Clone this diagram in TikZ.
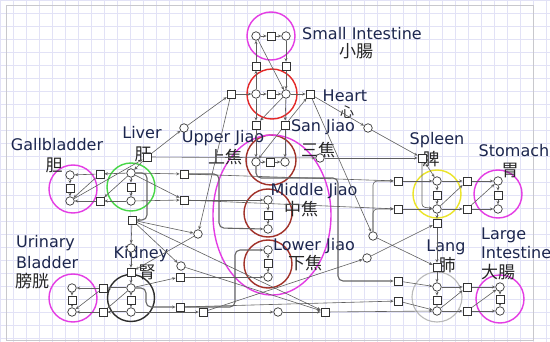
\documentclass[tikz,border=0pt]{standalone}
\usepackage{fontspec}
\setmainfont{DejaVu Sans}
\newfontfamily\cjkf{Noto Sans CJK JP}
\usetikzlibrary{arrows.meta}
\definecolor{gridc}{RGB}{226,226,246}
\definecolor{framec}{RGB}{200,200,205}
\definecolor{labc}{RGB}{28,38,78}
\definecolor{mag}{RGB}{228,60,228}
\definecolor{hred}{RGB}{228,40,40}
\definecolor{jred}{RGB}{160,48,40}
\definecolor{lgreen}{RGB}{70,215,70}
\definecolor{syel}{RGB}{235,228,40}
\definecolor{lgray}{RGB}{185,185,185}
\definecolor{kblk}{RGB}{45,45,45}
\definecolor{edgec}{RGB}{95,95,95}
\pgfdeclarelayer{bg}
\pgfdeclarelayer{labl}
\pgfdeclarelayer{edges}
\pgfsetlayers{bg,labl,edges,main}
\begin{document}
\begin{tikzpicture}[x=1pt,y=-1pt,
 pl/.style={circle,draw=black!80,fill=white,line width=0.7pt,minimum size=8.5pt,inner sep=0pt},
 tr/.style={rectangle,draw=black!80,fill=white,line width=0.7pt,minimum size=8pt,inner sep=0pt},
 arc/.style={draw=edgec,line width=0.6pt,-{Stealth[length=3.5pt,width=3pt]}},
 bus/.style={draw=black!60,line width=1.1pt,rounded corners=5pt,-{Stealth[length=3.5pt,width=3pt]}},
 organ/.style={line width=1.4pt},
 lab/.style={text=labc,inner sep=0pt,font=\fontsize{16}{18}\selectfont},
 cj/.style={text=black!85,inner sep=0pt,font=\cjkf\fontsize{17}{19}\selectfont},
]
\useasboundingbox (0,0) rectangle (550,342);
\begin{pgfonlayer}{bg}
\fill[white] (0,0) rectangle (550,342);
\foreach \i in {0,13,...,546} \draw[gridc,line width=0.5pt] (\i,0) -- (\i,342);
\foreach \j in {0,13,...,340} \draw[gridc,line width=0.5pt] (0,\j) -- (550,\j);
\draw[framec,line width=0.8pt] (6,5) rectangle (533,340);
% organ outlines
\draw[organ,mag] (271,36) circle (24);
\draw[organ,hred] (272,94) circle (25);
\draw[organ,jred] (271,160) circle (25);
\draw[organ,jred] (268,213) circle (24);
\draw[organ,jred] (268,264) circle (24);
\draw[organ,mag] (272,215) ellipse (59 and 80);
\draw[organ,mag] (73,189) circle (24);
\draw[organ,lgreen] (131,187) circle (24);
\draw[organ,kblk] (131,298) circle (23.5);
\draw[organ,mag] (73,298) circle (24);
\draw[organ,syel] (437,194) circle (24);
\draw[organ,mag] (498,194) circle (24);
\draw[lgray,line width=1.1pt] (437,297) circle (25);
\draw[organ,mag] (500,299) circle (24);
\end{pgfonlayer}

% labels
\begin{pgfonlayer}{labl}
\node[lab] (lSI) at (362,34) {Small Intestine};
\node[cj] (cSI) at (356,51) {小腸};
\node[lab] (lH) at (345,96) {Heart};
\node[cj,font=\cjkf\fontsize{14}{16}\selectfont] (cH) at (347,112) {心};
\node[lab] (lSJ) at (323,127) {San Jiao};
\node[cj] (cSJ) at (318,150) {三焦};
\node[lab] (lUJ) at (223,138) {Upper Jiao};
\node[cj] (cUJ) at (225,157) {上焦};
\node[lab] (lMJ) at (314,191) {Middle Jiao};
\node[cj] (cMJ) at (301,209) {中焦};
\node[lab] (lLJ) at (314,246) {Lower Jiao};
\node[cj] (cLJ) at (305,263) {下焦};
\node[lab] (lGB) at (57,145) {Gallbladder};
\node[cj] (cGB) at (54,165) {胆};
\node[lab] (lLv) at (142,133) {Liver};
\node[cj] (cLv) at (143,154) {肝};
\node[lab,anchor=west] (lUB1) at (16,243) {Urinary};
\node[lab,anchor=west] (lUB2) at (16,263) {Bladder};
\node[cj,anchor=west] (cUB) at (15,281) {膀胱};
\node[lab] (lK) at (141,254) {Kidney};
\node[cj] (cK) at (147,272) {腎};
\node[lab] (lSp) at (437,140) {Spleen};
\node[cj] (cSp) at (431,159) {脾};
\node[lab] (lSt) at (514,151) {Stomach};
\node[cj] (cSt) at (510,170) {胃};
\node[lab] (lLg) at (446,247) {Lang};
\node[cj] (cLg) at (447,265) {肺};
\node[lab,anchor=west] (lLI1) at (481,235) {Large};
\node[lab,anchor=west] (lLI2) at (481,253) {Intestine};
\node[cj,anchor=west] (cLI) at (481,272) {大腸};
\end{pgfonlayer}

% ---- nodes ----
% small intestine
\node[pl] (sip1) at (256,36) {};
\node[tr] (sit) at (271,36) {};
\node[pl] (sip2) at (286,36) {};
\node[tr] (ht1) at (256,66) {};
\node[tr] (ht2) at (286,66) {};
% heart
\node[pl] (hp1) at (256,94) {};
\node[tr] (ht) at (271,94) {};
\node[pl] (hp2) at (286,94) {};
\node[tr] (hl) at (231,94) {};
\node[tr] (hr) at (310,94) {};
% upper jiao
\node[tr] (ut1) at (256,125) {};
\node[tr] (ut2) at (285,125) {};
\node[pl] (up1) at (256,162) {};
\node[tr] (ut) at (270,162) {};
\node[pl] (up2) at (285,162) {};
% middle jiao
\node[pl] (mp1) at (268,200) {};
\node[tr] (mt) at (268,215) {};
\node[pl] (mp2) at (268,229) {};
% lower jiao
\node[pl] (lp1) at (268,250) {};
\node[tr] (lt) at (268,263) {};
\node[pl] (lp2) at (268,277) {};
% free places / transitions
\node[pl] (pa) at (184,128) {};
\node[pl] (pb) at (368,128) {};
\node[pl] (pc) at (320,158) {};
\node[pl] (pd) at (198,234) {};
\node[pl] (pe) at (181,266) {};
\node[pl] (pf) at (373,236) {};
\node[pl] (pg) at (367,258) {};
\node[pl] (ph) at (278,312) {};
\node[tr] (ta) at (203,312) {};
\node[tr] (tb) at (325,312) {};
% gallbladder
\node[pl] (gp1) at (70,175) {};
\node[tr] (gt) at (70,188) {};
\node[pl] (gp2) at (70,201) {};
% liver
\node[pl] (lvp1) at (131,173) {};
\node[tr] (lvt) at (131,187) {};
\node[pl] (lvp2) at (131,201) {};
\node[tr] (lvl1) at (100,174) {};
\node[tr] (lvl2) at (100,201) {};
\node[tr] (lvr1) at (184,174) {};
\node[tr] (lvr2) at (184,200) {};
\node[tr] (lvtop) at (147,157) {};
\node[tr] (lvbot) at (132,220) {};
% kidney
\node[pl] (kp0) at (131,248) {};
\node[tr] (kt0) at (131,272) {};
\node[pl] (kp1) at (131,288) {};
\node[tr] (kt) at (131,300) {};
\node[pl] (kp2) at (131,312) {};
\node[tr] (kl1) at (103,288) {};
\node[tr] (kl2) at (103,312) {};
\node[tr] (kr1) at (180,277) {};
\node[tr] (kr2) at (180,307) {};
% urinary bladder
\node[pl] (bp1) at (72,288) {};
\node[tr] (bt) at (72,300) {};
\node[pl] (bp2) at (72,312) {};
% spleen
\node[pl] (sp1) at (437,181) {};
\node[tr] (st) at (437,195) {};
\node[pl] (sp2) at (437,209) {};
\node[tr] (sl1) at (398,181) {};
\node[tr] (sl2) at (398,209) {};
\node[tr] (sr1) at (467,181) {};
\node[tr] (sr2) at (467,209) {};
\node[tr] (stop) at (422,158) {};
\node[tr] (sbot) at (437,223) {};
% stomach
\node[pl] (stp1) at (498,181) {};
\node[tr] (stt) at (498,195) {};
\node[pl] (stp2) at (498,209) {};
% lung
\node[tr] (lutop) at (437,267) {};
\node[pl] (lup1) at (437,287) {};
\node[tr] (lut) at (437,300) {};
\node[pl] (lup2) at (437,311) {};
\node[tr] (lul1) at (398,281) {};
\node[tr] (lul2) at (398,301) {};
% large intestine
\node[pl] (lip1) at (500,287) {};
\node[tr] (lit) at (500,299) {};
\node[pl] (lip2) at (500,311) {};
\node[tr] (lir1) at (467,287) {};
\node[tr] (lir2) at (467,311) {};

\coordinate (ca) at (422,207);

% ---- connectors ----
\begin{pgfonlayer}{edges}
% small intestine & heart
\draw[arc] (sip1) -- (sit);
\draw[arc] (sit) -- (sip2);
\draw[arc] (sip2) -- (ht2);
\draw[arc] (ht2) -- (hp2);
\draw[arc] (hp1) -- (ht1);
\draw[arc] (ht1) -- (sip1);
\draw[arc] (sip1) -- (hp2);
\draw[arc] (hl) -- (hp1);
\draw[arc] (hp1) -- (ht);
\draw[arc] (ht) -- (hp2);
\draw[arc] (hp2) -- (hr);
% heart to upper jiao
\draw[arc] (hp1) -- (ut1);
\draw[arc] (hp2) -- (ut1);
\draw[arc] (hp2) -- (ut2);
\draw[arc] (ut1) -- (up1);
\draw[arc] (ut2) -- (up2);
\draw[arc] (ut2) -- (up1);
\draw[arc] (ut2) -- (hr);
\draw[arc] (up1) -- (ut);
\draw[arc] (ut) -- (up2);
% jiao
\draw[arc] (mp1) -- (mt);
\draw[arc] (mt) -- (mp2);
\draw[arc] (lp1) -- (lt);
\draw[arc] (lt) -- (lp2);
\draw[bus] (up1.south) -- (256,178) -- (338,178) -- (338,281) -- (lul1.west);
\draw[bus] (lvr1.east) -- (219,174) -- (219,228) -- (mp2.west);
\draw[bus] (kr2.east) -- (235,307) -- (235,250) -- (lp1.west);
\draw[arc] (lvr2) -- (mp1);
\draw[arc] (kr1) -- (lp2);
% gallbladder & liver
\draw[arc] (gp1) -- (gt);
\draw[arc] (gt) -- (gp2);
\draw[arc] (lvp1) -- (lvl1);
\draw[arc] (lvl1) -- (gp1);
\draw[arc] (lvl1) -- (gp2);
\draw[arc] (lvp2) -- (lvl2);
\draw[arc] (lvl2) -- (gp2);
\draw[arc] (lvp1) -- (lvl2);
\draw[arc] (lvp1) -- (lvt);
\draw[arc] (lvt) -- (lvp2);
\draw[arc] (lvp1) -- (lvr1);
\draw[arc] (lvp1) -- (lvr2);
\draw[arc] (lvp2) -- (lvr2);
\draw[bus] (lvp1.east) -- (147,173) -- (147,220) -- (lvbot.east);
\draw[arc] (gp2) -- (lvtop);
\draw[arc] (lvtop) -- (lvp1);
\draw[arc] (lvtop) -- (pa);
\draw[arc] (pa) -- (hl);
\draw[arc] (lvtop) -- (pc);
\draw[arc] (pc) -- (stop);
\draw[arc] (lvr1) -- (sl1);
\draw[arc] (lvr2) -- (sl2);
% liver to kidney
\draw[arc] (lvbot) -- (kp0);
\draw[arc] (lvbot) -- (pd);
\draw[arc] (lvbot) -- (pe);
\draw[arc] (lvbot) -- (tb);
\draw[arc] (hl) -- (pd);
\draw[arc] (pd) -- (kt0);
\draw[arc] (pe) -- (tb);
% kidney & bladder
\draw[arc] (kp0) -- (kt0);
\draw[arc] (kt0) -- (kp1);
\draw[arc] (kp1) -- (kt);
\draw[arc] (kt) -- (kp2);
\draw[arc,line width=1pt] (kp1) -- (kl1);
\draw[arc] (kl1) -- (bp1);
\draw[arc,line width=1pt] (kp2) -- (kl2);
\draw[arc] (kl2) -- (bp2);
\draw[arc] (kl1) -- (bp2);
\draw[arc] (kp1) -- (kl2);
\draw[arc] (bp1) -- (bt);
\draw[arc] (bt) -- (bp2);
\draw[bus] (kp1.east) -- (146,288) -- (146,307) -- (kr2.west);
\draw[arc] (kp1) -- (kr1);
\draw[arc] (kp2) -- (ta);
\draw[arc] (ta) -- (ph);
\draw[arc] (ph) -- (tb);
\draw[arc] (tb) -- (lup2);
\draw[arc] (ta) -- (pg);
\draw[arc] (pg) -- (sbot);
\draw[arc] (kr2) -- (lul2);
% heart to spleen / lung
\draw[arc] (hr) -- (pb);
\draw[arc] (pb) -- (stop);
\draw[arc] (hr) -- (pf);
\draw[arc] (pf) -- (lutop);
\draw[arc,rounded corners=4pt] (pf.north) -- (373,181) -- (sl1.west);
\draw[arc,rounded corners=4pt] (pf.north) -- (373,209) -- (sl2.west);
% spleen & stomach
\draw[arc] (stop) -- (sp1);
\draw[arc,rounded corners=3pt] (stop.south) -- (ca) -- (sp2);
\draw[arc] (sl1) -- (sp1);
\draw[arc] (sl2) -- (sp2);
\draw[arc] (sp1) -- (st);
\draw[arc] (st) -- (sp2);
\draw[arc] (sp2) -- (sbot);
\draw[arc] (sp1) -- (sr1);
\draw[arc] (sr1) -- (stp1);
\draw[arc] (sp2) -- (sr2);
\draw[arc] (sr2) -- (stp2);
\draw[arc] (sp2) -- (sr1);
\draw[arc] (sr2) -- (stp1);
\draw[arc] (stp1) -- (stt);
\draw[arc] (stt) -- (stp2);
% lung & large intestine
\draw[arc] (sbot) -- (lutop);
\draw[arc] (lutop) -- (lup1);
\draw[arc] (lul1) -- (lup1);
\draw[arc] (lul2) -- (lup2);
\draw[arc] (lup1) -- (lut);
\draw[arc] (lut) -- (lup2);
\draw[arc] (lup1) -- (lir1);
\draw[arc] (lir1) -- (lip1);
\draw[arc] (lup2) -- (lir2);
\draw[arc] (lir2) -- (lip2);
\draw[arc] (lup2) -- (lir1);
\draw[arc] (lir2) -- (lip1);
\draw[arc] (lip1) -- (lit);
\draw[arc] (lit) -- (lip2);
\end{pgfonlayer}
\end{tikzpicture}
\end{document}
